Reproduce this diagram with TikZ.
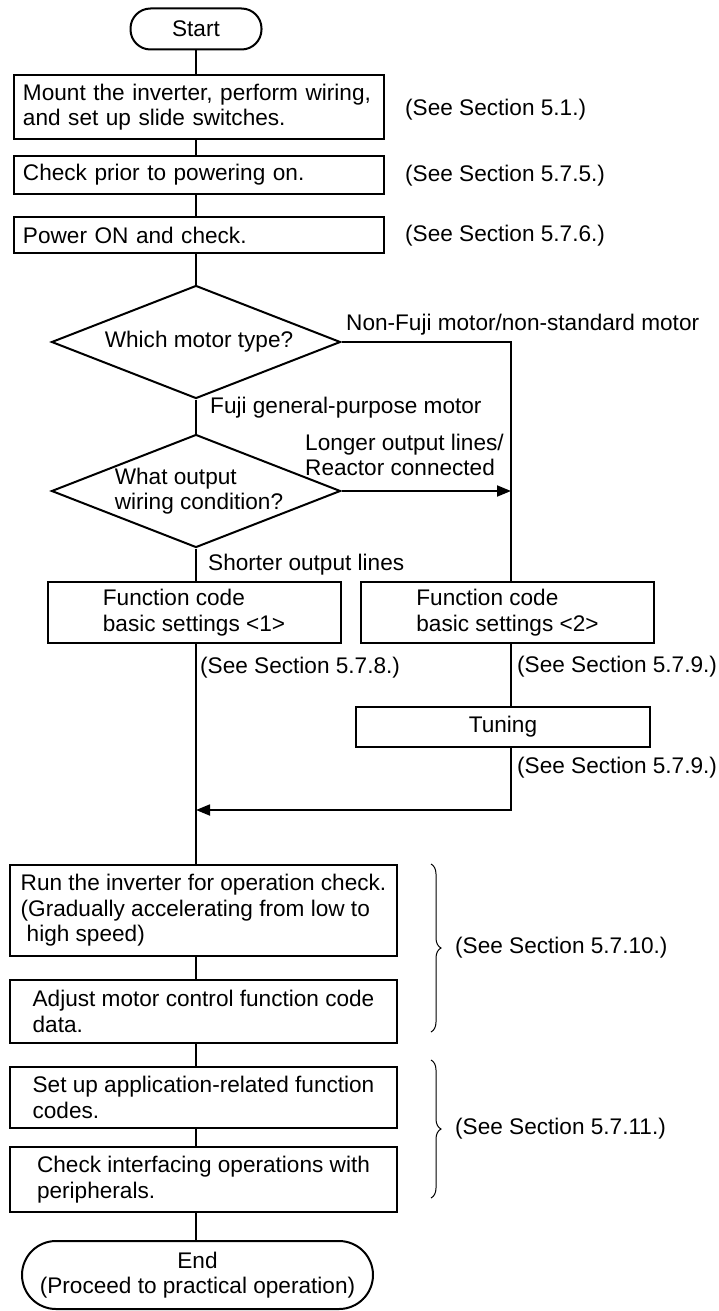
\documentclass[tikz,border=0pt]{standalone}
\usepackage{fontspec}
\setmainfont{Liberation Sans}
\usetikzlibrary{shapes.geometric,arrows.meta,decorations.pathreplacing,calc}
\begin{document}
\begin{tikzpicture}[x=1pt,y=-1pt,
  every node/.style={font=\fontsize{22.6}{25.5}\selectfont},
  topbox/.style={draw, line width=2pt, minimum height=#1, text width=352pt, inner xsep=9pt, inner ysep=0pt, align=left},
  botbox/.style={draw, line width=2pt, minimum width=387pt, minimum height=#1, inner sep=0pt, align=left},
  fcbox/.style={draw, line width=2pt, minimum width=293pt, minimum height=#1, inner sep=0pt, align=left},
  term/.style={draw, line width=2pt, inner sep=0pt, align=center},
  dia/.style={draw, diamond, line width=2pt, minimum width=289pt, minimum height=113pt, inner sep=0pt},
  lbl/.style={anchor=west, inner sep=0pt, align=left},
  conn/.style={line width=1.8pt},
  arr/.style={line width=1.8pt, -{Triangle[length=14pt,width=11pt]}},
  brc/.style={line width=1pt, decorate, decoration={brace, amplitude=10pt}}
]
\useasboundingbox (0,0) rectangle (718,1311);
\coordinate (col) at (196,0);
\coordinate (rx) at (511,0);

% main column
\node[term, rounded corners=20pt, minimum width=131pt, minimum height=41pt] (start) at (196,29) {Start};
\node[topbox=64pt] (b1) at (199,107) {Mount the inverter, perform wiring,\\and set up slide switches.};
\node[topbox=38pt] (b2) at (199,175) {Check prior to powering on.};
\node[topbox=36pt] (b3) at (199,235) {Power ON and check.};

\node[lbl] (l1) at (405,110) {(See Section 5.1.)};
\node[lbl] (l2) at (405,176) {(See Section 5.7.5.)};
\node[lbl] (l3) at (405,236) {(See Section 5.7.6.)};

\node[dia, label={[inner sep=0pt, xshift=3pt]center:Which motor type?}] (d1) at (196,342) {};
\node[dia, label={[inner sep=0pt, align=left, xshift=3pt]center:What output\\wiring condition?}] (d2) at (196,491) {};

\node[lbl] (n1) at (346,325) {Non-Fuji motor/non-standard motor};
\node[lbl] (n2) at (210,408) {Fuji general-purpose motor};
\node[lbl] (n3) at (305,455) {Longer output lines/\\Reactor connected};
\node[lbl] (n4) at (208,565) {Shorter output lines};

\node[fcbox=61pt] (fc1) at (194,612.5) {Function code\\basic settings <1>};
\node[fcbox=61pt] (fc2) at (507.5,612.5) {Function code\\basic settings <2>};
\node[lbl] (l4) at (200,668) {(See Section 5.7.8.)};
\node[lbl] (l5) at (517,667) {(See Section 5.7.9.)};
\node[fcbox=40pt, minimum width=294pt] (tun) at (503,727) {Tuning};
\node[lbl] (l6) at (517,768) {(See Section 5.7.9.)};

\node[botbox=91pt] (run) at (203.5,910.5) {Run the inverter for operation check.\\(Gradually accelerating from low to\\\hspace*{6pt}high speed)};
\node[botbox=63pt] (adj) at (203.5,1011.5) {Adjust motor control function code\\data.};
\node[botbox=61pt] (set) at (203.5,1097.5) {Set up application-related function\\codes.};
\node[botbox=65pt] (chk) at (203.5,1179.5) {Check interfacing operations with\\peripherals.};
\node[term, rounded corners=34pt, minimum width=351pt, minimum height=68pt] (end) at (197.5,1275) {End\\(Proceed to practical operation)};

\coordinate (j) at (196,810);

% connectors
\draw[conn] (start) -- (start |- b1.north);
\draw[conn] (b1.south -| col) -- (b2.north -| col);
\draw[conn] (b2.south -| col) -- (b3.north -| col);
\draw[conn] (b3.south -| col) -- (d1.north);
\draw[conn] (d1.south) -- (d2.north);
\draw[conn] (d2.south) -- (fc1.north -| col);
\draw[conn] (fc1.south -| col) -- (run.north -| col);
\draw[conn] (d1.east) -- (d1.east -| rx) -- (fc2.north -| rx);
\draw[arr] (d2.east) -- (d2.east -| rx);
\draw[conn] (fc2.south -| rx) -- (tun.north -| rx);
\draw[arr] (tun.south -| rx) -- (rx |- j) -- (j);
\draw[conn] (run.south -| col) -- (adj.north -| col);
\draw[conn] (adj.south -| col) -- (set.north -| col);
\draw[conn] (set.south -| col) -- (chk.north -| col);
\draw[conn] (chk.south -| col) -- (end.north -| col);

% braces
\draw[brc] (431,864) -- (431,1032);
\draw[brc] (431,1060) -- (431,1198);
\node[lbl] (l7) at (455,948) {(See Section 5.7.10.)};
\node[lbl] (l8) at (455,1129) {(See Section 5.7.11.)};
\end{tikzpicture}
\end{document}
